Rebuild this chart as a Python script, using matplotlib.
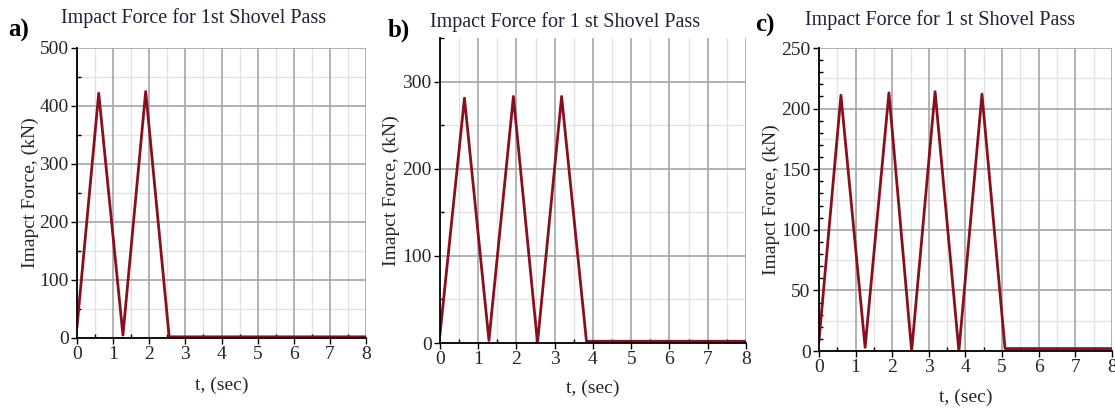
import matplotlib.pyplot as plt
from matplotlib.ticker import MultipleLocator

# values (time in s, force in kN)
t_a = [0, 0.60, 1.27, 1.90, 2.55, 8]
f_a = [20, 422, 5, 425, 2, 2]

t_b = [0, 0.64, 1.28, 1.92, 2.55, 3.18, 3.83, 8]
f_b = [10, 281, 3, 283, 0, 283, 2, 2]

t_c = [0, 0.60, 1.26, 1.91, 2.53, 3.17, 3.82, 4.45, 5.08, 8]
f_c = [8, 211, 3, 213, 0, 214, 0, 212, 2, 2]

titles = ['Impact Force for 1st Shovel Pass',
          'Impact Force for 1 st Shovel Pass',
          'Impact Force for 1 st Shovel Pass']
letters = ['a)', 'b)', 'c)']

plt.rcParams['font.family'] = ['Liberation Serif', 'DejaVu Serif']

line_col = '#87101e'
txt_col = '#262626'

fig = plt.figure(figsize=(11.15, 4.08), dpi=100)

# axes boxes in figure fractions (left, bottom, width, height)
boxes = [(0.0691, 0.1716, 0.2592, 0.7108),
         (0.3946, 0.1593, 0.2744, 0.7475),
         (0.7345, 0.1397, 0.2628, 0.7426)]
ylims = [500, 350, 250]
ymaj = [100, 100, 50]
ytick_minor = [50, 50, 10]
ygrid_minor = [50, 50, 25]
ylab_x = [-0.131, -0.131, -0.133]
xlab_y = [-0.134, -0.121, -0.125]

series = [(t_a, f_a), (t_b, f_b), (t_c, f_c)]

for i, ((t, f), box) in enumerate(zip(series, boxes)):
    ax = fig.add_axes(box)
    ax.set_xlim(0, 8)
    ax.set_ylim(0, ylims[i])
    ax.xaxis.set_major_locator(MultipleLocator(1))
    ax.xaxis.set_minor_locator(MultipleLocator(0.5))
    ax.yaxis.set_major_locator(MultipleLocator(ymaj[i]))
    ax.yaxis.set_minor_locator(MultipleLocator(ytick_minor[i]))

    ax.grid(which='major', color='#a6a6a6', linewidth=1.2)
    ax.grid(which='minor', axis='x', color='#e3e3e3', linewidth=1.0)
    ax.yaxis.grid(False, which='minor')
    y = ygrid_minor[i]
    while y < ylims[i]:
        if y % ymaj[i] != 0:
            ax.axhline(y, color='#e3e3e3', linewidth=1.0, zorder=0)
        y += ygrid_minor[i]
    ax.set_axisbelow(True)

    ax.plot(t, f, color=line_col, linewidth=2.0, zorder=3)

    for s in ['top', 'right']:
        ax.spines[s].set_visible(False)
    for s in ['left', 'bottom']:
        ax.spines[s].set_linewidth(1.3)
        ax.spines[s].set_zorder(4)

    ax.tick_params(which='major', direction='out', length=4, width=1,
                   labelsize=14, labelcolor=txt_col, pad=2)
    ax.tick_params(which='minor', direction='in', length=3, width=1)

    ax.set_xlabel('t, (sec)', fontsize=14, color=txt_col)
    ax.set_ylabel('Imapct Force, (kN)', fontsize=14, color=txt_col)
    ax.yaxis.set_label_coords(ylab_x[i], 0.5)
    ax.xaxis.set_label_coords(0.5, xlab_y[i])

# titles and panel letters
title_pos = [(194, 18), (565, 22), (940, 20)]
letter_pos = [(8, 30), (388, 30), (755, 25)]
for i in range(3):
    tx, ty = title_pos[i]
    fig.text(tx / 1115, 1 - ty / 408, titles[i], ha='center', va='center',
             fontsize=14.5, color='#20203a')
    lx, ly = letter_pos[i]
    fig.text(lx / 1115, 1 - ly / 408, letters[i], ha='left', va='center',
             fontsize=18, fontweight='bold', color='black')

fig.savefig('out.png', dpi=100)
